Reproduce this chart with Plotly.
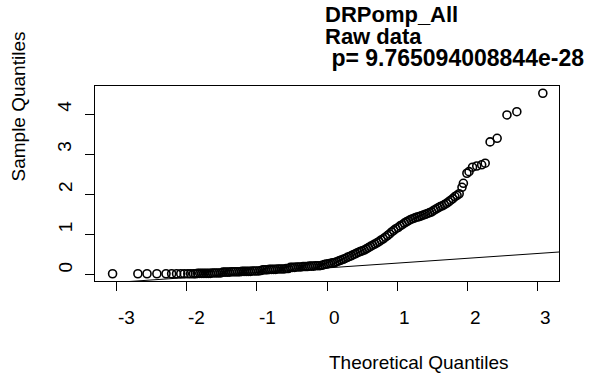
import plotly.graph_objects as go

# QQ-Plot DRPomp_All (Rohdaten)
theo_q = [
    -3.05, -2.69, -2.56, -2.42, -2.29, -2.21, -2.14, -2.08, -2.03, -1.98, -1.94,
    -1.90, -1.87, -1.84, -1.81, -1.78, -1.75, -1.72, -1.69, -1.66, -1.63,
    -1.60, -1.57, -1.54, -1.51, -1.48, -1.45, -1.42, -1.39, -1.36, -1.33,
    -1.30, -1.27, -1.24, -1.21, -1.18, -1.15, -1.12, -1.09, -1.06, -1.03,
    -1.00, -0.97, -0.94, -0.91, -0.88, -0.85, -0.82, -0.79, -0.76, -0.73,
    -0.70, -0.67, -0.64, -0.61, -0.58, -0.55, -0.52, -0.49, -0.46, -0.43,
    -0.40, -0.37, -0.34, -0.31, -0.28, -0.25, -0.22, -0.19, -0.16, -0.13,
    -0.10, -0.07, -0.04, -0.01, 0.02, 0.05, 0.08, 0.11, 0.14, 0.17,
    0.20, 0.23, 0.26, 0.29, 0.32, 0.35, 0.38, 0.41, 0.44, 0.47,
    0.50, 0.53, 0.56, 0.59, 0.62, 0.65, 0.68, 0.71, 0.74, 0.77,
    0.80, 0.83, 0.86, 0.89, 0.92, 0.95, 0.98, 1.01, 1.04, 1.07,
    1.10, 1.13, 1.16, 1.19, 1.22, 1.25, 1.28, 1.31, 1.34, 1.37,
    1.40, 1.43, 1.46, 1.49, 1.52, 1.55, 1.58, 1.61, 1.64, 1.67,
    1.70, 1.73, 1.76, 1.79, 1.82, 1.85, 1.88,
    1.92, 1.94, 1.99, 2.02, 2.07, 2.13, 2.20, 2.25, 2.32, 2.42, 2.56, 2.70, 3.07,
]
sample_q = [
    0.03, 0.03, 0.03, 0.03, 0.03, 0.03, 0.03, 0.03, 0.03, 0.03, 0.03,
    0.03, 0.03, 0.04, 0.04, 0.04, 0.04, 0.04, 0.04, 0.04, 0.05,
    0.05, 0.05, 0.05, 0.05, 0.07, 0.07, 0.07, 0.07, 0.08, 0.08,
    0.08, 0.08, 0.08, 0.09, 0.09, 0.09, 0.09, 0.09, 0.10, 0.10,
    0.10, 0.10, 0.11, 0.13, 0.13, 0.13, 0.14, 0.14, 0.14, 0.14,
    0.15, 0.15, 0.15, 0.15, 0.16, 0.16, 0.19, 0.19, 0.19, 0.20,
    0.20, 0.20, 0.21, 0.21, 0.21, 0.22, 0.22, 0.22, 0.23, 0.23,
    0.23, 0.24, 0.26, 0.27, 0.28, 0.29, 0.30, 0.31, 0.33, 0.35,
    0.37, 0.39, 0.41, 0.44, 0.46, 0.48, 0.51, 0.53, 0.56, 0.58,
    0.60, 0.62, 0.65, 0.68, 0.71, 0.74, 0.77, 0.80, 0.83, 0.87,
    0.90, 0.94, 0.98, 1.02, 1.07, 1.11, 1.15, 1.18, 1.22, 1.25,
    1.29, 1.32, 1.35, 1.38, 1.40, 1.42, 1.44, 1.45, 1.47, 1.49,
    1.51, 1.53, 1.55, 1.57, 1.61, 1.64, 1.67, 1.70, 1.72, 1.75,
    1.78, 1.82, 1.86, 1.90, 1.95, 1.98, 2.02,
    2.18, 2.28, 2.53, 2.57, 2.68, 2.71, 2.74, 2.78, 3.31, 3.40, 3.98, 4.06, 4.52,
]

# qqline (Achsenabschnitt, Steigung)
line_intercept = 0.175
line_slope = 0.12

x_ticks = [-3, -2, -1, 0, 1, 2, 3]
y_ticks = [0, 1, 2, 3, 4]

title_lines = ["DRPomp_All", "Raw data", "\u00a0p= 9.765094008844e-28"]
title_sizes = [22, 22, 23]

x_range = [-3.30, 3.30]
y_range = [-0.15, 4.70]

FONT = "Liberation Sans, Arial, sans-serif"

fig = go.Figure()
fig.add_trace(go.Scatter(
    x=theo_q, y=sample_q, mode="markers",
    marker=dict(symbol="circle-open", size=8, color="black", line=dict(width=1.6, color="black")),
    showlegend=False,
))
fig.add_trace(go.Scatter(
    x=x_range, y=[line_intercept + line_slope * v for v in x_range], mode="lines",
    line=dict(color="black", width=1), showlegend=False,
))

axis_common = dict(showline=True, linecolor="black", linewidth=1, mirror=True,
                   ticks="outside", ticklen=9, tickcolor="black", tickwidth=1,
                   showgrid=False, zeroline=False, showticklabels=False)
fig.update_xaxes(range=x_range, tickvals=x_ticks, **axis_common)
fig.update_yaxes(range=y_range, tickvals=y_ticks, **axis_common)

ann = []
# Beschriftungen wie im Original: linksbuendig ab der Mitte
for t in x_ticks:
    ann.append(dict(x=t, y=0, xref="x", yref="paper", text=str(t), showarrow=False,
                    xanchor="left", yanchor="middle", yshift=-36,
                    font=dict(size=19, color="black", family=FONT)))
for t in y_ticks:
    ann.append(dict(x=0, y=t, xref="paper", yref="y", text=str(t), showarrow=False,
                    textangle=-90, xanchor="center", yanchor="bottom", xshift=-30,
                    font=dict(size=19, color="black", family=FONT)))
ann.append(dict(x=0.5, y=0, xref="paper", yref="paper", text="Theoretical Quantiles",
                showarrow=False, xanchor="left", yanchor="middle", yshift=-81,
                font=dict(size=19, color="black", family=FONT)))
ann.append(dict(x=0, y=0.5, xref="paper", yref="paper", text="Sample Quantiles",
                showarrow=False, textangle=-90, xanchor="center", yanchor="bottom",
                xshift=-77, font=dict(size=19, color="black", family=FONT)))
for i, line in enumerate(title_lines):
    ann.append(dict(x=0.5, y=1, xref="paper", yref="paper", text="<b>" + line + "</b>",
                    showarrow=False, xanchor="left", yanchor="middle", xshift=-4,
                    yshift=72 - 22 * i,
                    font=dict(size=title_sizes[i], color="black", family=FONT)))

fig.update_layout(
    width=590, height=378,
    margin=dict(l=95, r=31, t=86, b=97),
    paper_bgcolor="white", plot_bgcolor="white",
    annotations=ann,
)

# Seitenrand entfernen, damit die Grafik bei (0,0) beginnt
fig.write_html("out.html", config={"displayModeBar": False},
               post_script="document.body.style.margin='0px';")
